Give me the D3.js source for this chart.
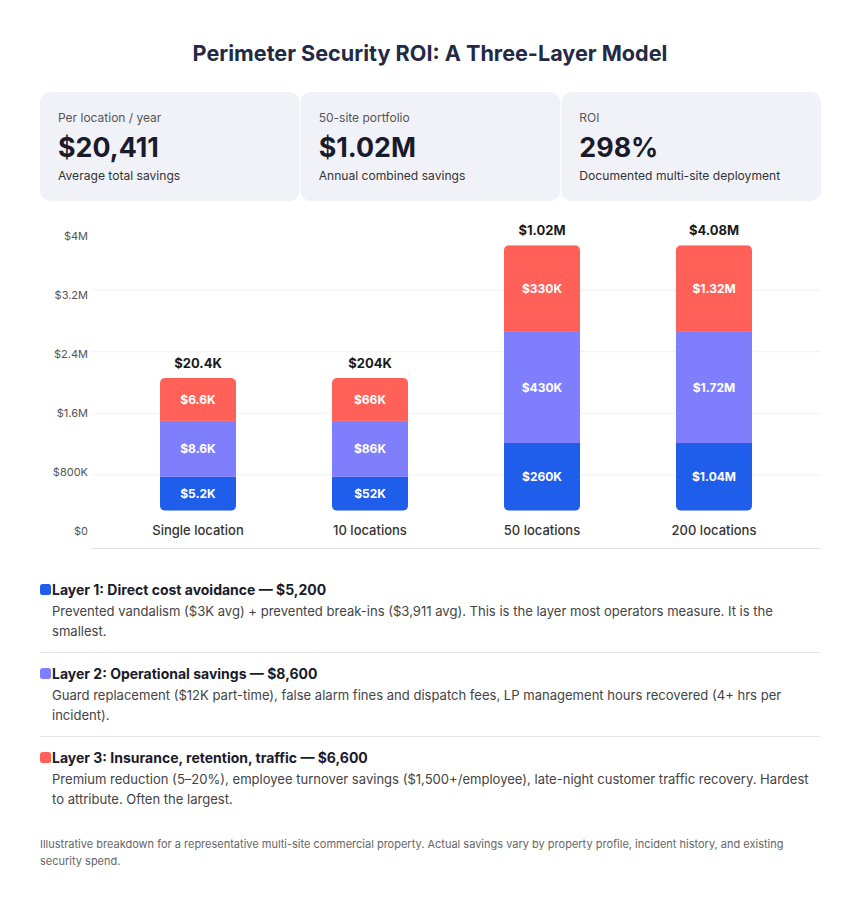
<!DOCTYPE html>
<html>
<head>
<meta charset="utf-8">
<script src="https://cdn.jsdelivr.net/npm/d3@7"></script>
<style>
  body { margin: 0; background: #fff; font-family: Inter, "Noto Sans", sans-serif; }
</style>
</head>
<body>
<div id="chart"></div>
<script>
// data
const title = "Perimeter Security ROI: A Three-Layer Model";
const cardLabels = ["Per location / year", "50-site portfolio", "ROI"];
const cardValues = ["$20,411", "$1.02M", "298%"];
const cardNotes = ["Average total savings", "Annual combined savings", "Documented multi-site deployment"];

const categories = ["Single location", "10 locations", "50 locations", "200 locations"];
const layer1 = [5200, 52000, 260000, 1040000];
const layer2 = [8600, 86000, 430000, 1720000];
const layer3 = [6600, 66000, 330000, 1320000];
const totalLabels = ["$20.4K", "$204K", "$1.02M", "$4.08M"];
const segLabels = [
  ["$5.2K", "$52K", "$260K", "$1.04M"],
  ["$8.6K", "$86K", "$430K", "$1.72M"],
  ["$6.6K", "$66K", "$330K", "$1.32M"]
];
// bar heights as drawn, in axis units ($)
const drawnTotals = [1800000, 1800000, 3600000, 3600000];
const yTicks = [0, 800000, 1600000, 2400000, 3200000, 4000000];
const yTickLabels = ["$0", "$800K", "$1.6M", "$2.4M", "$3.2M", "$4M"];

const layerTitles = [
  "Layer 1: Direct cost avoidance \u2014 $5,200",
  "Layer 2: Operational savings \u2014 $8,600",
  "Layer 3: Insurance, retention, traffic \u2014 $6,600"
];
const layerText = [
  ["Prevented vandalism ($3K avg) + prevented break-ins ($3,911 avg). This is the layer most operators measure. It is the", "smallest."],
  ["Guard replacement ($12K part-time), false alarm fines and dispatch fees, LP management hours recovered (4+ hrs per", "incident)."],
  ["Premium reduction (5\u201320%), employee turnover savings ($1,500+/employee), late-night customer traffic recovery. Hardest", "to attribute. Often the largest."]
];
const footnote = [
  "Illustrative breakdown for a representative multi-site commercial property. Actual savings vary by property profile, incident history, and existing",
  "security spend."
];

const colors = ["#1f5eea", "#7f7ffe", "#ff6159"];

const W = 860, H = 910;
const svg = d3.select("#chart").append("svg")
  .attr("width", W).attr("height", H)
  .style("font-family", "Inter, 'Noto Sans', sans-serif");

// title
svg.append("text").attr("x", W / 2).attr("y", 61).attr("text-anchor", "middle")
  .attr("font-size", 21.6).attr("font-weight", 700).attr("fill", "#232a45").text(title);

// stat cards
const cardX = d3.scaleBand().domain(d3.range(3)).range([40, 821]).paddingInner(0.004);
const cards = svg.append("g").selectAll("g").data(cardLabels).join("g")
  .attr("transform", (d, i) => `translate(${cardX(i)},92)`);
cards.append("rect").attr("width", cardX.bandwidth()).attr("height", 109)
  .attr("rx", 10).attr("fill", "#f1f2f8");
cards.append("text").attr("x", 18).attr("y", 30).attr("font-size", 12).attr("fill", "#555")
  .text(d => d);
cards.append("text").attr("x", 18).attr("y", 65).attr("font-size", 26.8).attr("font-weight", 700)
  .attr("fill", "#1a1a2a").text((d, i) => cardValues[i]);
cards.append("text").attr("x", 18).attr("y", 87.5).attr("font-size", 12.1).attr("fill", "#333")
  .text((d, i) => cardNotes[i]);

// chart
const x = d3.scaleBand().domain(categories).range([112, 800])
  .paddingInner(0.558).paddingOuter(0.279);
const y = d3.scaleLinear().domain([0, 4000000]).range([510.7, 215.7]);
const gridY = d3.scaleLinear().domain([0, 4000000]).range([536.5, 228.5]);

const chart = svg.append("g");
chart.selectAll(".grid").data(yTicks.slice(1, 5)).join("line").attr("class", "grid")
  .attr("x1", 92).attr("x2", 820)
  .attr("y1", d => gridY(d)).attr("y2", d => gridY(d))
  .attr("stroke", "#eef0f5").attr("stroke-width", 1);
chart.append("line").attr("x1", 92).attr("x2", 820).attr("y1", 548.5).attr("y2", 548.5)
  .attr("stroke", "#e2e3e8").attr("stroke-width", 1);

chart.selectAll(".ytick").data(yTicks).join("text").attr("class", "ytick")
  .attr("x", 88).attr("y", d => y(d) + 24.5).attr("text-anchor", "end")
  .attr("font-size", 11).attr("fill", "#555")
  .text((d, i) => yTickLabels[i]);

const layers = [layer1, layer2, layer3];
const defs = svg.append("defs");
categories.forEach((c, ci) => {
  const real = layers.map(l => l[ci]);
  const sum = d3.sum(real);
  // share of the drawn bar for each layer
  const scaleSeg = d3.scaleLinear().domain([0, sum]).range([0, drawnTotals[ci]]);
  const bx = x(c), bw = x.bandwidth();
  defs.append("clipPath").attr("id", "clip" + ci).append("rect")
    .attr("x", bx).attr("y", y(drawnTotals[ci])).attr("width", bw)
    .attr("height", y(0) - y(drawnTotals[ci])).attr("rx", 5);
  const g = chart.append("g").attr("clip-path", `url(#clip${ci})`);
  let acc = 0;
  real.forEach((v, li) => {
    const y0 = y(scaleSeg(acc)), y1 = y(scaleSeg(acc + v));
    g.append("rect").attr("x", bx).attr("y", y1).attr("width", bw).attr("height", y0 - y1)
      .attr("fill", colors[li]);
    chart.append("text").attr("x", bx + bw / 2).attr("y", (y0 + y1) / 2 + 4.5)
      .attr("text-anchor", "middle").attr("font-size", 12).attr("font-weight", 700)
      .attr("fill", "#fff").text(segLabels[li][ci]);
    acc += v;
  });
  chart.append("text").attr("x", bx + bw / 2).attr("y", y(drawnTotals[ci]) - 10)
    .attr("text-anchor", "middle").attr("font-size", 13).attr("font-weight", 700)
    .attr("fill", "#1a1a1a").text(totalLabels[ci]);
  chart.append("text").attr("x", bx + bw / 2).attr("y", 534.5)
    .attr("text-anchor", "middle").attr("font-size", 13).attr("font-weight", 500)
    .attr("fill", "#333").text(c);
});

// layer notes
const rowY = [595, 679, 763];
const notes = svg.append("g").selectAll("g").data(layerTitles).join("g")
  .attr("transform", (d, i) => `translate(0,${rowY[i]})`);
notes.append("rect").attr("x", 40).attr("y", -11).attr("width", 11).attr("height", 11)
  .attr("rx", 2.5).attr("fill", (d, i) => colors[i]);
notes.append("text").attr("x", 52).attr("y", 0).attr("font-size", 14).attr("font-weight", 700)
  .attr("fill", "#1a1a2a").text(d => d);
notes.each(function (d, i) {
  d3.select(this).selectAll(".desc").data(layerText[i]).join("text").attr("class", "desc")
    .attr("x", 52).attr("y", (t, j) => 21 + j * 20).attr("font-size", 13.05).attr("fill", "#444")
    .text(t => t);
});
svg.selectAll(".divider").data([652.5, 736.5]).join("line").attr("class", "divider")
  .attr("x1", 40).attr("x2", 820).attr("y1", d => d).attr("y2", d => d)
  .attr("stroke", "#e5e5e8");

svg.selectAll(".foot").data(footnote).join("text").attr("class", "foot")
  .attr("x", 40).attr("y", (d, i) => 848 + i * 17).attr("font-size", 11).attr("fill", "#666")
  .text(d => d);
</script>
</body>
</html>
